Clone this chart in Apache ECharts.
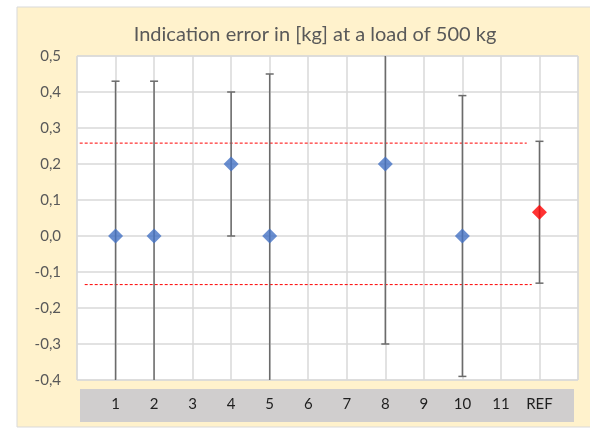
<!DOCTYPE html>
<html>
<head>
    <meta charset="utf-8">
    <title>Indication error</title>
    <style>
        html,body,#chart{
            height: 100%;
            width: 100%;
            padding: 0;
            margin: 0;
            background: #fff;
        }
    </style>
</head>
<body>
    <div id="chart"></div>
    <script src="https://cdn.jsdelivr.net/npm/echarts@6/dist/echarts.min.js"></script>
    <script>
        // labels under the plot, one per x position 1..12
        var xLabels = ['1', '2', '3', '4', '5', '6', '7', '8', '9', '10', '11', 'REF'];

        // instruments: x position, indication error, uncertainty (half width of bar)
        var pointX = [1, 2, 4, 5, 8, 10];
        var pointY = [0, 0, 0.2, 0, 0.2, 0];
        var pointErr = [0.43, 0.43, 0.2, 0.45, 0.5, 0.39];

        // reference
        var refX = [12];
        var refY = [0.066];
        var refErr = [0.197];

        // red dashed limits: [xStart, xEnd, y]
        var upperLimit = [0.07, 11.67, 0.258];
        var lowerLimit = [0.2, 11.8, -0.135];

        var chart = echarts.init(document.getElementById('chart'));

        function fmt(v) {
            if (Math.abs(v) < 1e-9) v = 0;
            return v.toFixed(1).replace('.', ',');
        }

        function errData(xs, ys, es) {
            return xs.map(function (x, i) { return [x, ys[i] - es[i], ys[i] + es[i]]; });
        }

        function renderErr(params, api) {
            var x = api.value(0);
            var lo = api.coord([x, api.value(1)]);
            var hi = api.coord([x, api.value(2)]);
            var w = 4;
            var st = { stroke: '#6b6b6b', lineWidth: 1.5 };
            return {
                type: 'group',
                children: [
                    { type: 'line', shape: { x1: lo[0], y1: lo[1], x2: hi[0], y2: hi[1] }, style: st },
                    { type: 'line', shape: { x1: hi[0] - w, y1: hi[1], x2: hi[0] + w, y2: hi[1] }, style: st },
                    { type: 'line', shape: { x1: lo[0] - w, y1: lo[1], x2: lo[0] + w, y2: lo[1] }, style: st }
                ]
            };
        }

        var dashStyle = { color: '#ff0000', width: 1, type: [3, 2] };

        var option = {
            animation: false,
            textStyle: { fontFamily: 'Lato' },
            title: {
                text: 'Indication error in [kg] at a load of 500 kg',
                left: 310,
                top: 20,
                textAlign: 'center',
                textStyle: { fontFamily: 'Lato', fontSize: 20, fontWeight: 'normal', color: '#595959' }
            },
            graphic: [
                {
                    type: 'rect', z: -10, silent: true,
                    shape: { x: 17, y: 7, width: 580, height: 420 },
                    style: { fill: '#fff2cc', stroke: '#d9d9d9', lineWidth: 1 }
                },
                {
                    type: 'rect', z: -5, silent: true,
                    shape: { x: 80, y: 389, width: 494, height: 33 },
                    style: { fill: '#d0cece' }
                }
            ],
            grid: {
                left: 77, right: 12, top: 56, bottom: 50,
                show: true, backgroundColor: '#fff', borderColor: '#d9d9d9', borderWidth: 1
            },
            xAxis: {
                type: 'value', min: 0, max: 13, interval: 1,
                axisLine: { show: false },
                axisTick: { show: false },
                splitLine: { lineStyle: { color: '#d9d9d9', width: 1.5 } },
                axisLabel: {
                    margin: 17,
                    fontSize: 15, color: '#1f1f1f', fontFamily: 'Lato',
                    formatter: function (v) { return xLabels[v - 1] || ''; }
                }
            },
            yAxis: {
                type: 'value', min: -0.4, max: 0.5, interval: 0.1,
                axisLine: { show: false },
                axisTick: { show: false },
                splitLine: { lineStyle: { color: '#d9d9d9', width: 1.5 } },
                axisLabel: {
                    margin: 16,
                    fontSize: 15, color: '#595959', fontFamily: 'Lato',
                    formatter: fmt
                }
            },
            series: [
                {
                    type: 'line', symbol: 'none', silent: true,
                    data: [[upperLimit[0], upperLimit[2]], [upperLimit[1], upperLimit[2]]],
                    lineStyle: dashStyle, z: 3
                },
                {
                    type: 'line', symbol: 'none', silent: true,
                    data: [[lowerLimit[0], lowerLimit[2]], [lowerLimit[1], lowerLimit[2]]],
                    lineStyle: dashStyle, z: 3
                },
                {
                    type: 'custom', clip: true, z: 4,
                    renderItem: renderErr,
                    data: errData(pointX.concat(refX), pointY.concat(refY), pointErr.concat(refErr))
                },
                {
                    type: 'scatter', symbol: 'diamond', symbolSize: 15, z: 5,
                    itemStyle: { color: '#4472c4' },
                    data: pointX.map(function (x, i) { return [x, pointY[i]]; })
                },
                {
                    type: 'scatter', symbol: 'diamond', symbolSize: 15, z: 5,
                    itemStyle: { color: '#ff0000' },
                    data: refX.map(function (x, i) { return [x, refY[i]]; })
                }
            ]
        };

        chart.setOption(option);
    </script>
</body>
</html>
